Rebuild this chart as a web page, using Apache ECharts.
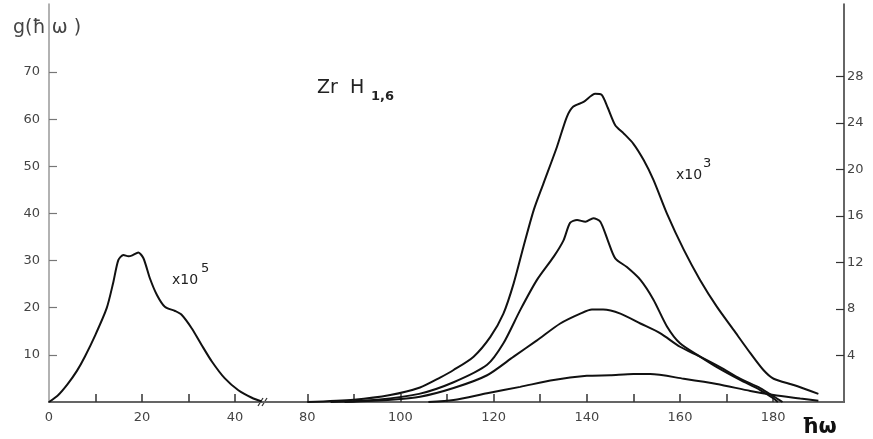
<!DOCTYPE html>
<html><head><meta charset="utf-8">
<script src="https://cdn.jsdelivr.net/npm/echarts@6/dist/echarts.min.js"></script>
<style>html,body{margin:0;padding:0;background:#fff}#c{width:873px;height:439px}</style>
</head><body><div id="c"></div>
<script>
// low-energy band (x10^5), left axis
const lowBand = [[0,0],[2,1.5],[4,3.8],[6,6.6],[7.7,9.6],[10,14.3],[12.4,19.9],[13.8,25.3],[14.9,30.1],[16,31.2],[17.1,30.9],[17.9,31.1],[19.2,31.7],[20.3,30.5],[21.7,26.2],[23.2,22.7],[24.9,20.2],[27.1,19.3],[28.5,18.5],[30.7,15.6],[32.8,12.1],[35,8.6],[37.8,5.0],[40.7,2.5],[43.6,0.9],[45.7,0.1]];
// optical band curves (x10^3), right axis
const curveA = [[80,0],[90,0.2],[97.8,0.6],[104.2,1.25],[108.5,2.1],[111.4,2.75],[115.7,3.9],[119.3,5.6],[122.1,7.6],[124.3,10.2],[126.4,13.35],[128.6,16.5],[130.7,18.8],[133.6,21.95],[135.7,24.5],[137.1,25.4],[139.3,25.8],[141.8,26.5],[143.2,26.4],[144.5,25.3],[146.1,23.8],[147.9,23.1],[150,22.2],[152.2,20.8],[154.3,19.1],[157.2,16.2],[160.8,13.1],[164.3,10.5],[167.9,8.2],[171.5,6.2],[175.1,4.2],[177.9,2.75],[180.1,2.0],[184.4,1.46],[189.7,0.7]];
const curveB = [[85,0],[95,0.2],[104,0.7],[111.4,1.7],[118.6,3.2],[122.1,5.05],[125.7,7.9],[129.3,10.5],[132.9,12.5],[135,13.9],[136.4,15.4],[137.9,15.65],[139.7,15.5],[141.4,15.8],[142.9,15.5],[144.5,13.9],[146.1,12.35],[148.6,11.6],[151.5,10.5],[154.3,8.8],[157.2,6.5],[160,5.05],[164.3,3.9],[167.9,3.0],[172.9,1.9],[177.2,1.03],[180.1,0.3],[181,0]];
const curveC = [[88,0],[98,0.2],[104.2,0.45],[111.4,1.2],[118.6,2.3],[124.3,3.9],[129.3,5.3],[134.3,6.75],[138.6,7.6],[141.1,7.95],[143.5,7.95],[147.2,7.6],[151.5,6.75],[155.8,5.9],[160,4.75],[164.3,3.9],[168.6,3.0],[172.9,2.0],[177.2,1.2],[180.8,0.3],[182,0]];
const curveD = [[106,0],[111.4,0.17],[118.6,0.75],[125.7,1.3],[132.9,1.9],[140,2.25],[145,2.3],[150,2.4],[153.6,2.4],[160.8,2.0],[167.9,1.55],[175.1,0.95],[180.1,0.6],[185.8,0.3],[189.7,0.1]];
// ticks and labels
const leftTicks = [10,20,30,40,50,60,70];
const rightTicks = [4,8,12,16,20,24,28];
const lowXTicks = [10,20,30,40];
const lowXLabels = [0,20,40];
const highXTicks = [80,90,100,110,120,130,140,150,160,170,180];
const highXLabels = [80,100,120,140,160,180];

const chart = echarts.init(document.getElementById('c'), null, {renderer:'canvas'});
const font = 'DejaVu Sans';
const lbl = {fontSize:13, fontFamily:font, color:'#444'};
const lineStyle = {color:'#111', width:2};
const mkSeries = (data, xi, yi) => ({type:'line', xAxisIndex:xi, yAxisIndex:yi, data:data, symbol:'none', smooth:0.25, lineStyle:lineStyle, silent:true});
const option = {
  animation:false,
  backgroundColor:'#fff',
  grid:[
    {left:49, right:603, top:4, bottom:37},
    {left:270, right:29, top:4, bottom:37},
    {left:49, right:29, top:4, bottom:37}
  ],
  xAxis:[
    {gridIndex:0, type:'value', min:0, max:47.5,
     axisLine:{lineStyle:{color:'#333', width:1.8}},
     axisTick:{inside:true, length:8, customValues:lowXTicks, lineStyle:{color:'#333', width:1.5}},
     axisLabel:Object.assign({customValues:lowXLabels, margin:9}, lbl), splitLine:{show:false}},
    {gridIndex:1, type:'value', min:72, max:195.2,
     axisLine:{lineStyle:{color:'#333', width:1.8}},
     axisTick:{inside:true, length:8, customValues:highXTicks, lineStyle:{color:'#333', width:1.5}},
     axisLabel:Object.assign({customValues:highXLabels, margin:9}, lbl), splitLine:{show:false}},
    {gridIndex:2, type:'value', position:'top', min:0, max:1,
     axisLine:{lineStyle:{color:'#777', width:1.5}}, axisTick:{show:false}, axisLabel:{show:false}, splitLine:{show:false}}
  ],
  yAxis:[
    {gridIndex:0, type:'value', position:'left', min:0, max:84.43,
     axisLine:{show:true, lineStyle:{color:'#999', width:1.5}},
     axisTick:{show:true, inside:true, length:8, customValues:leftTicks, lineStyle:{color:'#777', width:1.2}},
     axisLabel:Object.assign({customValues:leftTicks, margin:9}, lbl), splitLine:{show:false}},
    {gridIndex:1, type:'value', position:'right', min:0, max:34.22,
     axisLine:{show:true, lineStyle:{color:'#333', width:1.5}},
     axisTick:{show:true, inside:true, length:8, customValues:rightTicks, lineStyle:{color:'#333', width:1.2}},
     axisLabel:Object.assign({customValues:rightTicks, margin:3}, lbl), splitLine:{show:false}},
    {gridIndex:2, type:'value', show:false, min:0, max:1}
  ],
  series:[
    mkSeries(lowBand,0,0),
    mkSeries(curveA,1,1),
    mkSeries(curveB,1,1),
    mkSeries(curveC,1,1),
    mkSeries(curveD,1,1)
  ],
  graphic:[
    {type:'text', left:13, top:19, style:{text:'g(ħ ω )', font:'19px "DejaVu Sans"', fill:'#444'}},
    {type:'text', left:317, top:79, style:{text:'Zr  H', font:'19px "DejaVu Sans"', fill:'#222'}},
    {type:'text', left:371, top:90, style:{text:'1,6', font:'bold 13px "DejaVu Sans"', fill:'#222'}},
    {type:'text', left:172, top:273, style:{text:'x10', font:'14px "DejaVu Sans"', fill:'#222'}},
    {type:'text', left:201, top:262, style:{text:'5', font:'13px "DejaVu Sans"', fill:'#222'}},
    {type:'text', left:676, top:168, style:{text:'x10', font:'14px "DejaVu Sans"', fill:'#222'}},
    {type:'text', left:703, top:157, style:{text:'3', font:'13px "DejaVu Sans"', fill:'#222'}},
    {type:'text', left:802, top:417, style:{text:'ħω', font:'bold 21px "DejaVu Sans"', fill:'#111'}},
    {type:'line', shape:{x1:258, y1:406, x2:263, y2:398}, style:{stroke:'#333', lineWidth:1.3}},
    {type:'line', shape:{x1:262, y1:406, x2:267, y2:398}, style:{stroke:'#333', lineWidth:1.3}}
  ]
};
chart.setOption(option);
</script>
</body></html>
